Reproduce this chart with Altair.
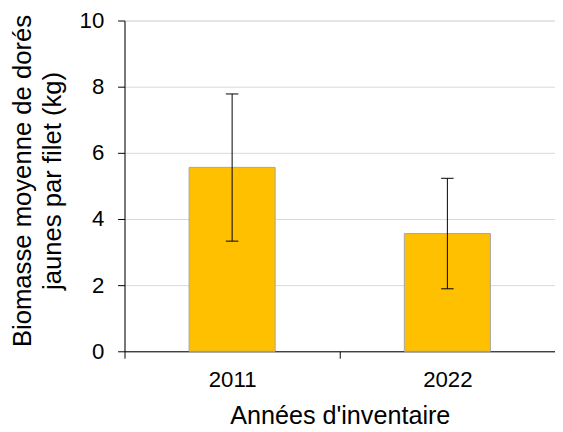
import altair as alt
import pandas as pd

years = ["2011", "2022"]
means = [5.56, 3.56]
lows = [3.33, 1.89]
highs = [7.78, 5.23]

FONT = "Liberation Sans"

df = pd.DataFrame({"year": years, "mean": means, "low": lows, "high": highs})
df["pos"] = [i + 0.5 for i in range(len(years))]

label_expr = " : ".join(
    [f"datum.value === {i + 0.5} ? '{y}'" for i, y in enumerate(years)]
) + " : ''"

x_axis = alt.Axis(
    values=[0, 0.5, 1, 1.5, 2],
    labelExpr=label_expr,
    labelOverlap=False,
    grid=False,
    domainColor="black",
    tickColor={"condition": {"test": "datum.value % 1 === 0", "value": "black"}, "value": "transparent"},
    tickSize=7,
    labelFont=FONT,
    labelFontSize=22.5,
    labelColor="black",
    labelPadding=11,
    title="Années d'inventaire",
    titleFont=FONT,
    titleFontSize=25.5,
    titleFontWeight="normal",
    titleColor="black",
    titleY=53,
)
x_scale = alt.Scale(domain=[0, 2], nice=False, zero=False)

y_axis = alt.Axis(
    values=[0, 2, 4, 6, 8, 10],
    grid=True,
    gridColor="#D9D9D9",
    gridWidth=1,
    domainColor="black",
    tickColor="black",
    tickSize=7,
    labelFont=FONT,
    labelFontSize=22.5,
    labelColor="black",
    labelPadding=14,
    title=["Biomasse moyenne de dorés", "jaunes par filet (kg)"],
    titleFont=FONT,
    titleFontSize=26,
    titleFontWeight="normal",
    titleColor="black",
    titleLineHeight=31,
    titleX=-90.5,
    titleY=162,
)
y_scale = alt.Scale(domain=[0, 10], nice=False)

base = alt.Chart(df).transform_calculate(
    x1="datum.pos - 0.2", x2="datum.pos + 0.2",
    c1="datum.pos - 0.029", c2="datum.pos + 0.029",
)

bars = base.mark_bar(color="#FFC000", stroke="#A6A6A6", strokeWidth=1).encode(
    x=alt.X("x1:Q", scale=x_scale, axis=x_axis),
    x2="x2:Q",
    y=alt.Y("mean:Q", scale=y_scale, axis=y_axis),
    y2=alt.datum(0),
)

err = base.mark_rule(color="black", strokeWidth=1).encode(
    x=alt.X("pos:Q", scale=x_scale),
    y=alt.Y("low:Q", scale=y_scale),
    y2="high:Q",
)
cap_hi = base.mark_rule(color="black", strokeWidth=1).encode(
    x=alt.X("c1:Q", scale=x_scale),
    x2="c2:Q",
    y=alt.Y("high:Q", scale=y_scale),
)
cap_lo = base.mark_rule(color="black", strokeWidth=1).encode(
    x=alt.X("c1:Q", scale=x_scale),
    x2="c2:Q",
    y=alt.Y("low:Q", scale=y_scale),
)

chart = (
    alt.layer(bars, err, cap_hi, cap_lo)
    .properties(
        width=436,
        height=335,
        autosize=alt.AutoSizeParams(type="none"),
        padding={"left": 118, "top": 10, "right": 0, "bottom": 76},
    )
    .configure_view(stroke=None)
    .configure(background="white")
)

chart.save("out.html", embed_options={"renderer": "svg", "actions": False})
